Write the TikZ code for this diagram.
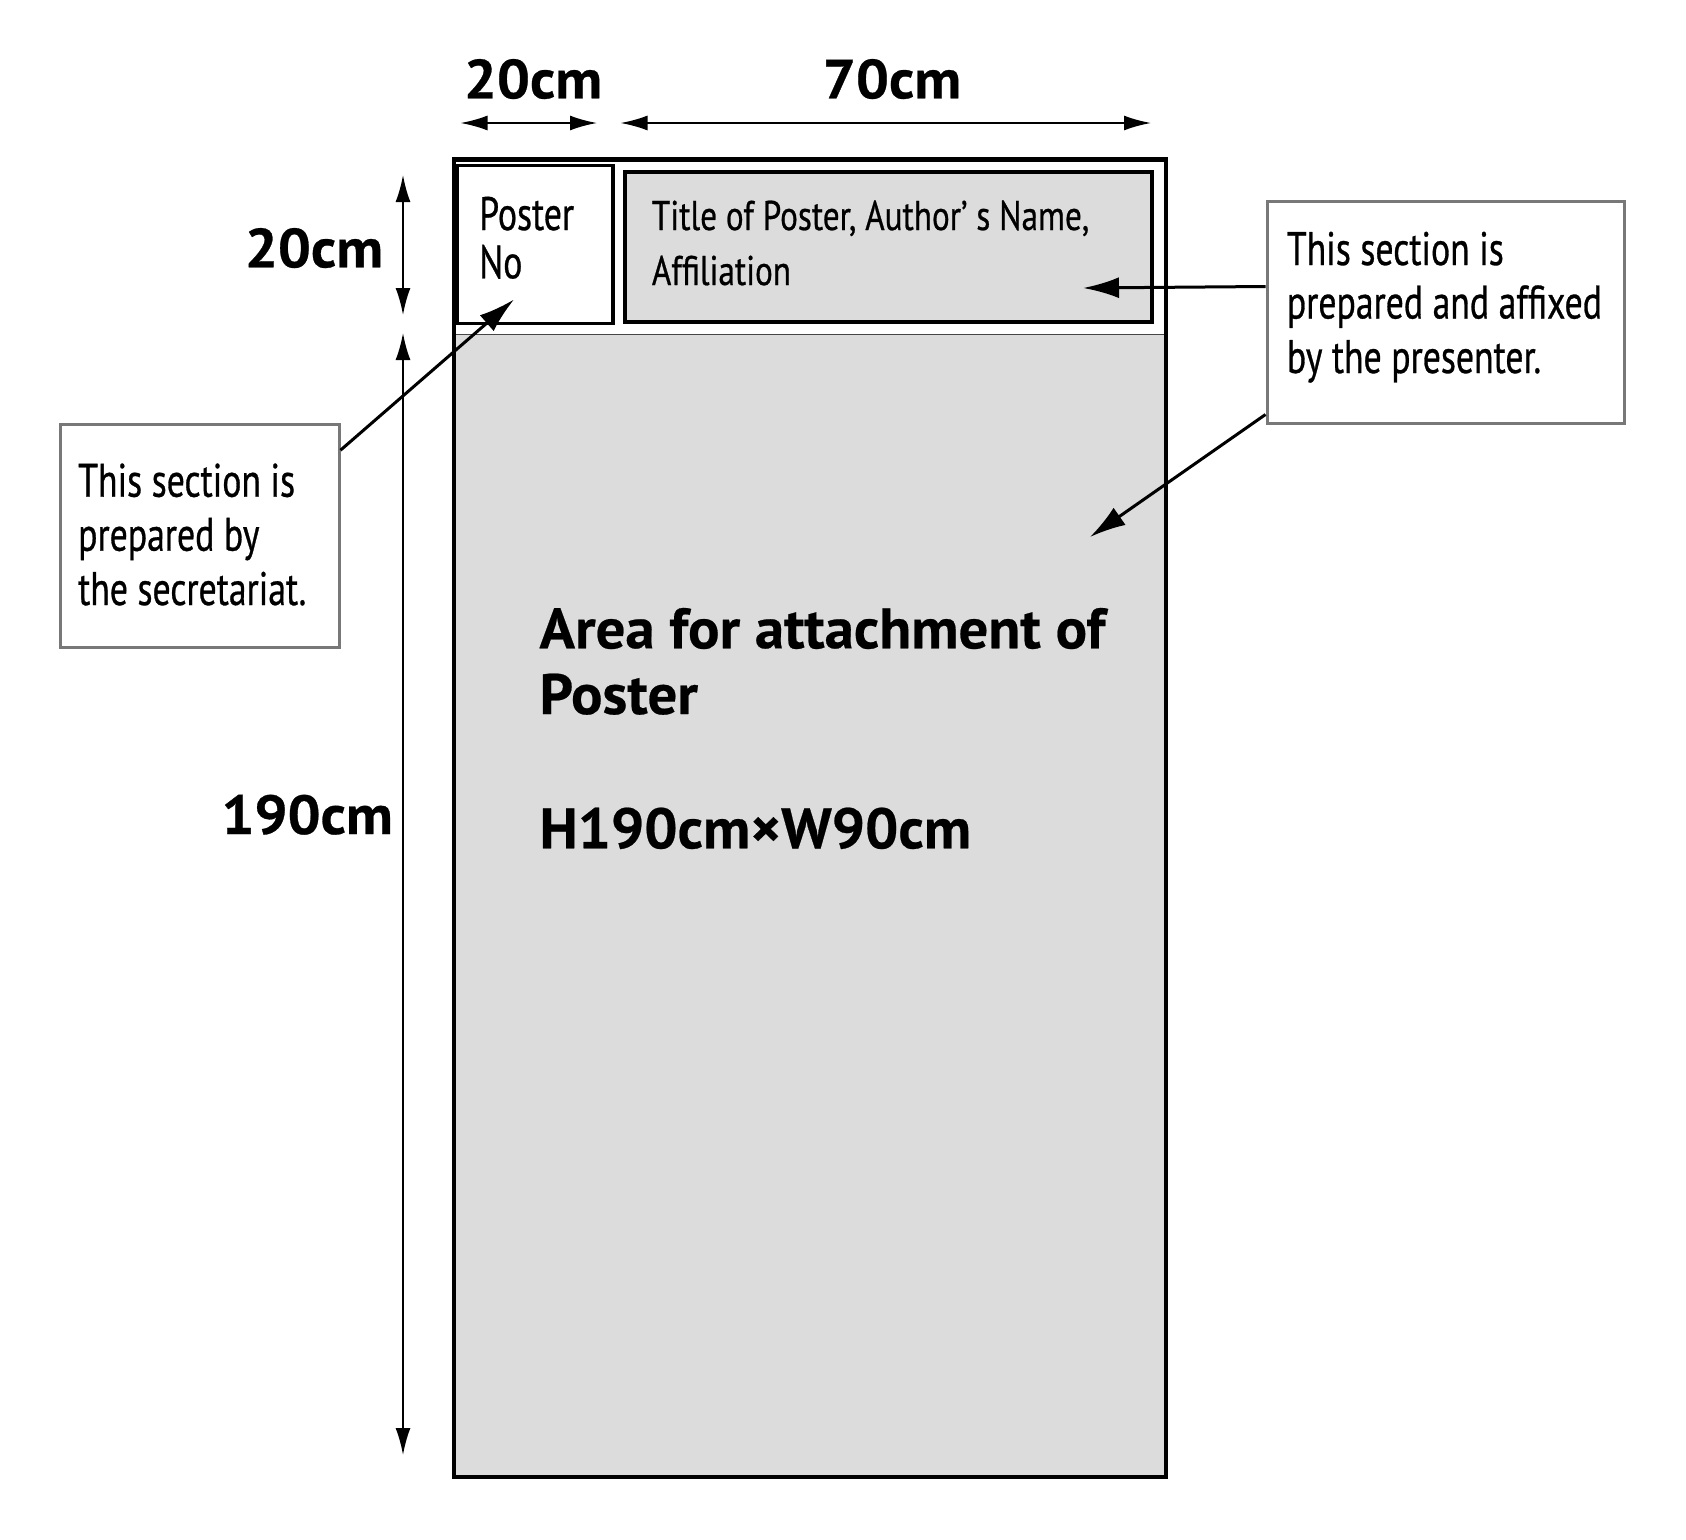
\documentclass[tikz,border=0pt]{standalone}
\usepackage{fontspec}
\setmainfont{PT Sans}
\newfontfamily\condf[FakeStretch=0.76,FakeBold=0.6]{PT Sans}
\newfontfamily\condt[FakeStretch=0.80,FakeBold=0.6]{PT Sans}
\newfontfamily\dimf[FakeStretch=1.06,FakeBold=0.5]{PT Sans Bold}
\newfontfamily\mainf[FakeStretch=1.03,FakeBold=0.4]{PT Sans Bold}
\usetikzlibrary{arrows.meta}
\definecolor{panelgray}{RGB}{220,220,220}
\definecolor{calloutgray}{RGB}{120,120,120}
\definecolor{sepgray}{RGB}{70,70,70}
\begin{document}
\begin{tikzpicture}[x=1pt,y=-1pt,
  dimline/.style={line width=2pt,{Latex[length=27pt,width=15pt]}-{Latex[length=27pt,width=15pt]}},
  callarrow/.style={line width=3pt,-{Latex[length=36pt,width=21pt]}},
  dimlabel/.style={font=\dimf\fontsize{55}{60}\selectfont,inner sep=0pt},
  condtext/.style={font=\condf\fontsize{47}{54}\selectfont,inner sep=0pt,anchor=base west},
  titletext/.style={font=\condt\fontsize{41.5}{54}\selectfont,inner sep=0pt,anchor=base west},
  maintext/.style={font=\mainf\fontsize{57}{64}\selectfont,inner sep=0pt,anchor=base west},
  callbox/.style={draw=calloutgray,line width=3pt,fill=white,inner sep=0pt,rectangle},
]
\useasboundingbox (0,0) rectangle (1686,1539);

% poster board
\fill[panelgray] (454,335) rectangle (1166,1477);
\draw[sepgray,line width=1.5pt] (454,334.5) -- (1166,334.5);
\draw[line width=4.5pt] (454,159.5) rectangle (1166,1477);
\draw[line width=3.5pt] (457.5,165.7) rectangle (613,323.3);
\draw[line width=4pt,fill=panelgray] (625,171.7) rectangle (1151.5,321.5);

% header texts
\node[condtext] (pn1) at (479,230) {Poster};
\node[condtext] (pn2) at (479,278.3) {No};
\node[titletext] (ti1) at (651.7,230) {Title of Poster, Author’ s Name,};
\node[titletext] (ti2) at (651.7,285) {Affiliation};

% main area text
\node[maintext] (ar1) at (539.3,648.3) {Area for attachment of};
\node[maintext] (ar2) at (539.3,714) {Poster};
\node[maintext] (ar3) at (539.3,848.3) {H190cm×W90cm};

% dimension labels
\node[dimlabel,anchor=base] (l20t) at (533,98.3) {20cm};
\node[dimlabel,anchor=base] (l70t) at (892,98.3) {70cm};
\node[dimlabel,anchor=base east] (l20l) at (383.3,267.3) {20cm};
\node[dimlabel,anchor=base east] (l190l) at (393,834) {190cm};

% dimension arrows
\coordinate (d20a) at (460.5,123);
\coordinate (d20b) at (597,123);
\coordinate (d70a) at (620.5,123);
\coordinate (d70b) at (1151,123);
\coordinate (v20a) at (403,175);
\coordinate (v20b) at (403,315);
\coordinate (v190a) at (403,333);
\coordinate (v190b) at (403,1455);
\draw[dimline] (d20a) -- (d20b);
\draw[dimline] (d70a) -- (d70b);
\draw[dimline] (v20a) -- (v20b);
\draw[dimline] (v190a) -- (v190b);

% callout boxes
\node[callbox,minimum width=279pt,minimum height=223pt] (sec) at (199.5,535.5) {};
\node[condtext] (se1) at (78,496.7) {This section is};
\node[condtext] (se2) at (78,550.7) {prepared by};
\node[condtext] (se3) at (78,605) {the secretariat.};

\node[callbox,minimum width=357pt,minimum height=222pt] (pres) at (1445.5,312) {};
\node[condtext] (pr1) at (1286.7,265) {This section is};
\node[condtext] (pr2) at (1286.7,318.5) {prepared and affixed};
\node[condtext] (pr3) at (1286.7,373) {by the presenter.};

% callout arrows
\coordinate (pntip) at (514,299.5);
\coordinate (titletip) at (1083,288);
\coordinate (areatip) at (1090,537);
\draw[callarrow] ([yshift=-27.7pt]sec.north east) -- (pntip);
\draw[callarrow] ([yshift=-87pt]pres.north west) -- (titletip);
\draw[callarrow] ([yshift=10pt]pres.south west) -- (areatip);
\end{tikzpicture}
\end{document}
